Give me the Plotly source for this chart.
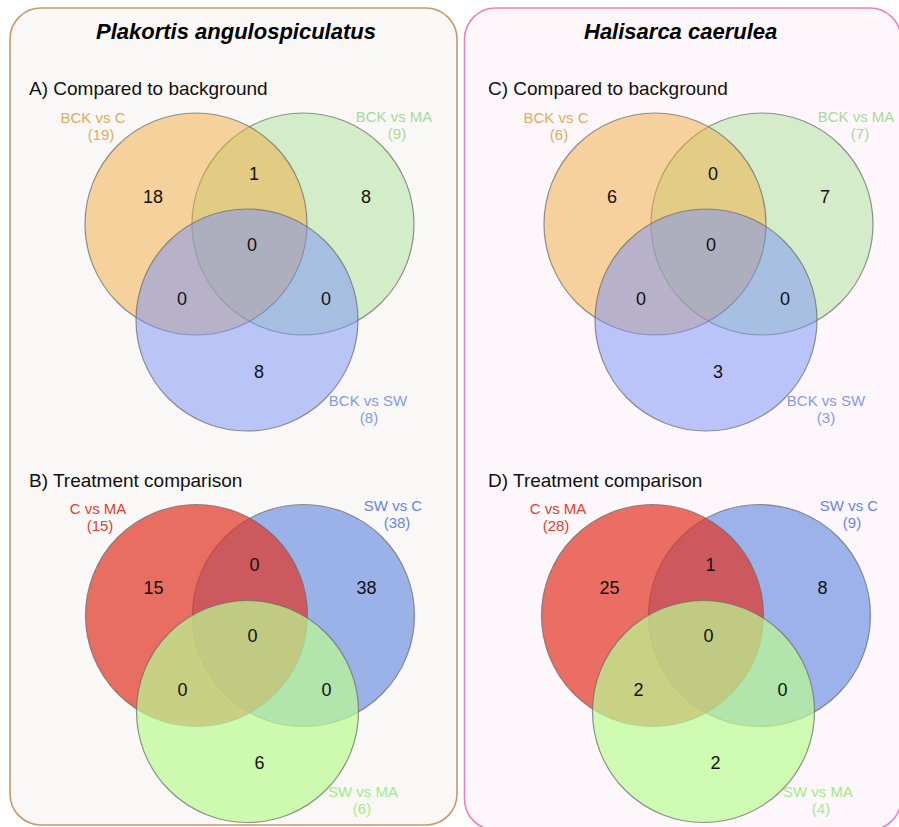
import plotly.graph_objects as go

W, H = 899, 827
FONT = "Liberation Sans, Arial, Helvetica, sans-serif"

# ---------------- data ----------------
panel_titles = ["Plakortis angulospiculatus", "Halisarca caerulea"]
section_titles = {
    "A": "A) Compared to background",
    "B": "B) Treatment comparison",
    "C": "C) Compared to background",
    "D": "D) Treatment comparison",
}
# sets in circle order: upper-left, upper-right, bottom
set_names = {
    "A": ["BCK vs C", "BCK vs MA", "BCK vs SW"],
    "B": ["C vs MA", "SW vs C", "SW vs MA"],
    "C": ["BCK vs C", "BCK vs MA", "BCK vs SW"],
    "D": ["C vs MA", "SW vs C", "SW vs MA"],
}
set_totals = {"A": [19, 9, 8], "B": [15, 38, 6], "C": [6, 7, 3], "D": [28, 9, 4]}
# region counts: only1, 1&2, only2, 1&2&3, 1&3, 2&3, only3
region_counts = {
    "A": [18, 1, 8, 0, 0, 0, 8],
    "B": [15, 0, 38, 0, 0, 0, 6],
    "C": [6, 0, 7, 0, 0, 0, 3],
    "D": [25, 1, 8, 0, 2, 0, 2],
}

# ---------------- styling / layout ----------------
set_fill = {
    "A": ["rgba(241,172,64,0.5)", "rgba(171,226,154,0.5)", "rgba(121,146,248,0.5)"],
    "C": ["rgba(241,172,64,0.5)", "rgba(171,226,154,0.5)", "rgba(121,146,248,0.5)"],
    "B": ["rgba(225,51,35,0.7)", "rgba(115,148,226,0.7)", "rgba(186,251,145,0.7)"],
    "D": ["rgba(225,51,35,0.7)", "rgba(115,148,226,0.7)", "rgba(186,251,145,0.7)"],
}
set_label_color = {
    "A": ["#e2ab5c", "#aad89c", "#8599ec"],
    "C": ["#e2ab5c", "#aad89c", "#8599ec"],
    "B": ["#e0402f", "#6886dc", "#a2eb84"],
    "D": ["#e0402f", "#6886dc", "#a2eb84"],
}
draw_order = {"A": [1, 0, 2], "C": [1, 0, 2], "B": [1, 0, 2], "D": [1, 0, 2]}

venn_origin = {"A": (196, 224), "B": (196.5, 615.5), "C": (655, 224), "D": (652.5, 615.5)}
R = 111
circle_offsets = [(0, 0), (107, 0), (51, 96)]
region_offsets = [(-43, -26), (58, -49), (170, -26), (56, 22), (-14, 76), (130, 76), (63, 149)]
# set label positions (line 1, line 2)
label_pos = {
    "A": [((93, 119), (101, 136)), ((394, 118), (397, 135)), ((368, 402), (369, 419))],
    "B": [((98, 510), (100, 527)), ((393, 507), (397, 524)), ((363, 793), (362, 810))],
    "C": [((556, 119), (559, 136)), ((856, 118), (860, 135)), ((826, 402), (826, 419))],
    "D": [((558, 510), (556, 527)), ((849, 507), (852, 524)), ((818, 793), (821, 810))],
}
section_pos = {"A": (27, 88), "B": (27, 480), "C": (486, 88), "D": (486, 480)}
panel_boxes = [
    dict(x0=10, y0=8, x1=457, y1=825, fill="#f9f8f6", line="#c8976b", title_x=236),
    dict(x0=464.5, y0=8, x1=901, y1=830, fill="#fdf7fb", line="#e97fc0", title_x=680),
]


def rounded_rect(x0, y0, x1, y1, r):
    k = 0.5523 * r
    return (
        f"M {x0 + r},{y0} L {x1 - r},{y0} "
        f"C {x1 - r + k},{y0} {x1},{y0 + r - k} {x1},{y0 + r} "
        f"L {x1},{y1 - r} "
        f"C {x1},{y1 - r + k} {x1 - r + k},{y1} {x1 - r},{y1} "
        f"L {x0 + r},{y1} "
        f"C {x0 + r - k},{y1} {x0},{y1 - r + k} {x0},{y1 - r} "
        f"L {x0},{y0 + r} "
        f"C {x0},{y0 + r - k} {x0 + r - k},{y0} {x0 + r},{y0} Z"
    )


shapes = []
annotations = []
for i, pb in enumerate(panel_boxes):
    shapes.append(dict(type="path", xref="x", yref="y", layer="below",
                       path=rounded_rect(pb["x0"], pb["y0"], pb["x1"], pb["y1"], 31),
                       fillcolor=pb["fill"], line=dict(color=pb["line"], width=1.6)))
    annotations.append(dict(x=pb["title_x"], y=31, xref="x", yref="y", showarrow=False,
                            text=panel_titles[i], xanchor="center", yanchor="middle",
                            font=dict(family=FONT, size=22, color="#000",
                                      weight="bold", style="italic")))

fig = go.Figure()

for key in ["A", "B", "C", "D"]:
    ox, oy = venn_origin[key]
    for idx in draw_order[key]:
        cx, cy = ox + circle_offsets[idx][0], oy + circle_offsets[idx][1]
        shapes.append(dict(type="circle", xref="x", yref="y", layer="below",
                           x0=cx - R, x1=cx + R, y0=cy - R, y1=cy + R,
                           fillcolor=set_fill[key][idx],
                           line=dict(color="rgba(110,110,110,0.75)", width=1.2)))
    sx, sy = section_pos[key]
    annotations.append(dict(x=sx, y=sy, xref="x", yref="y", showarrow=False,
                            text=section_titles[key], xanchor="left", yanchor="middle",
                            font=dict(family=FONT, size=19, color="#111")))
    # region counts
    fig.add_trace(go.Scatter(
        x=[ox + dx for dx, dy in region_offsets],
        y=[oy + dy for dx, dy in region_offsets],
        text=[str(v) for v in region_counts[key]],
        mode="text", textposition="middle center",
        textfont=dict(family=FONT, size=18, color="#111"),
        hoverinfo="skip", showlegend=False))
    # set labels
    for j in range(3):
        (x1, y1), (x2, y2) = label_pos[key][j]
        fig.add_trace(go.Scatter(
            x=[x1, x2], y=[y1, y2],
            text=[set_names[key][j], f"({set_totals[key][j]})"],
            mode="text", textposition="middle center",
            textfont=dict(family=FONT, size=15, color=set_label_color[key][j]),
            hoverinfo="skip", showlegend=False))

fig.update_layout(
    width=W, height=H,
    margin=dict(l=0, r=0, t=0, b=0),
    paper_bgcolor="white", plot_bgcolor="white",
    xaxis=dict(range=[0, W], visible=False, fixedrange=True),
    yaxis=dict(range=[H, 0], visible=False, fixedrange=True),
    shapes=shapes, annotations=annotations,
    showlegend=False,
)
fig.write_html("out.html",
               config={"displayModeBar": False},
               post_script="document.body.style.margin='0';document.body.style.overflow='hidden';")
